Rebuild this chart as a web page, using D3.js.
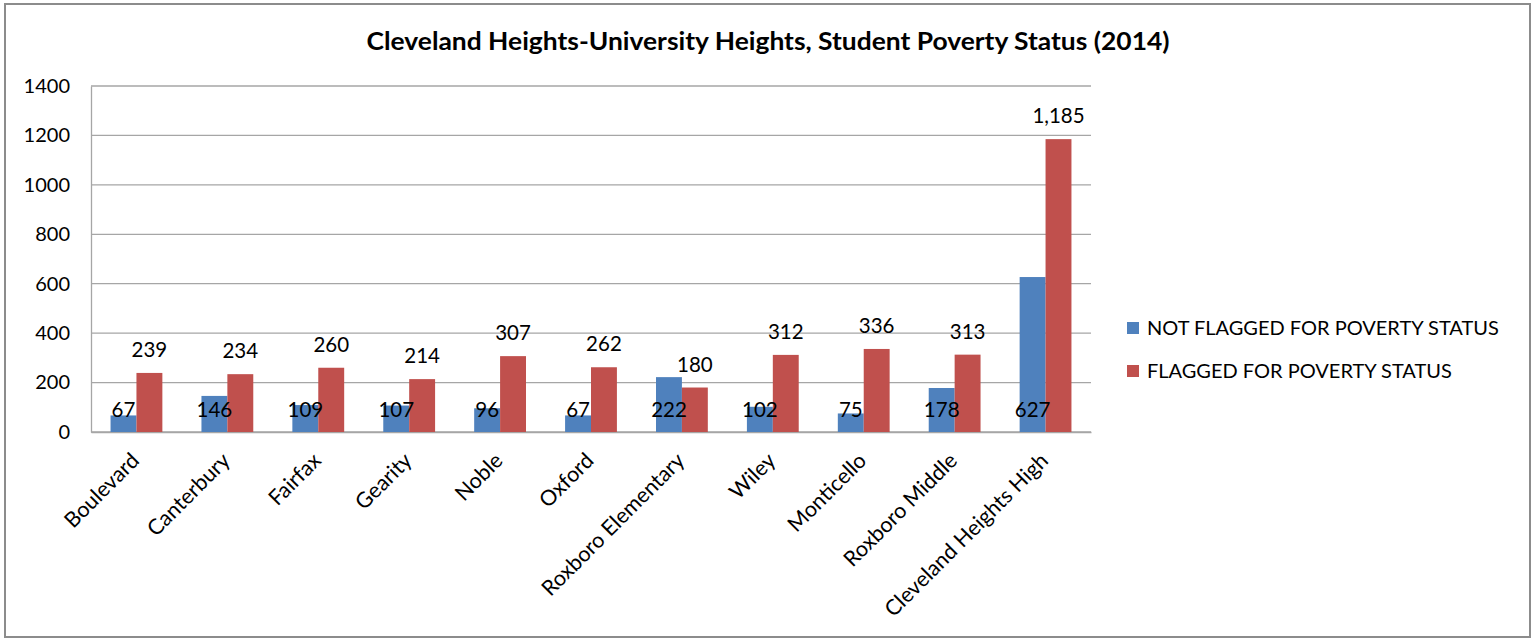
<!DOCTYPE html>
<html>
<head>
<meta charset="utf-8">
<script src="https://cdn.jsdelivr.net/npm/d3@7"></script>
<style>
  html, body { margin: 0; padding: 0; background: #fff; }
  svg text { font-family: Lato, "Liberation Sans", sans-serif; fill: #000; }
</style>
</head>
<body>
<svg id="chart" width="1536" height="641"></svg>
<script>
const categories = ["Boulevard", "Canterbury", "Fairfax", "Gearity", "Noble", "Oxford",
  "Roxboro Elementary", "Wiley", "Monticello", "Roxboro Middle", "Cleveland Heights High"];
const seriesNames = ["NOT FLAGGED FOR POVERTY STATUS", "FLAGGED FOR POVERTY STATUS"];
const notFlagged = [67, 146, 109, 107, 96, 67, 222, 102, 75, 178, 627];
const flagged = [239, 234, 260, 214, 307, 262, 180, 312, 336, 313, 1185];
const yTicks = [0, 200, 400, 600, 800, 1000, 1200, 1400];
const colors = ["#4F81BD", "#C0504D"];
const title = "Cleveland Heights-University Heights, Student Poverty Status (2014)";

const svg = d3.select("#chart");
// outer frame
svg.append("rect").attr("x", 5).attr("y", 4).attr("width", 1525).attr("height", 633)
  .attr("fill", "#fff").attr("stroke", "#8c8c8c").attr("stroke-width", 2);

svg.append("text").attr("x", 768).attr("y", 50).attr("text-anchor", "middle")
  .style("font-weight", "bold").style("font-size", "25px")
  .attr("textLength", 803).attr("lengthAdjust", "spacingAndGlyphs").text(title);

const plot = { left: 91, top: 86, right: 1091, bottom: 432 };
const g = svg.append("g");

const y = d3.scaleLinear().domain([0, 1400]).range([plot.bottom, plot.top]);
const x0 = d3.scaleBand().domain(categories).range([plot.left, plot.right])
  .paddingInner(0.43).paddingOuter(0.215);
const x1 = d3.scaleBand().domain(seriesNames).range([0, x0.bandwidth()]);

// gridlines
g.append("g").selectAll("line").data(yTicks).join("line")
  .attr("x1", plot.left).attr("x2", plot.right)
  .attr("y1", d => y(d)).attr("y2", d => y(d))
  .attr("stroke", "#a6a6a6").attr("stroke-width", 1.3);

// y axis
const yAxis = d3.axisLeft(y).tickValues(yTicks).tickSize(0).tickPadding(21).tickFormat(d3.format("d"));
const ya = g.append("g").attr("transform", `translate(${plot.left},0)`).call(yAxis);
ya.select(".domain").attr("stroke", "#a6a6a6").attr("stroke-width", 1.3);
ya.selectAll("text").style("font-size", "20px").style("font-family", "Lato, sans-serif").attr("fill", "#000");

// x axis
const xAxis = d3.axisBottom(x0).tickSize(0).tickPadding(0);
const xa = g.append("g").attr("transform", `translate(0,${plot.bottom})`).call(xAxis);
xa.select(".domain").attr("stroke", "#a6a6a6").attr("stroke-width", 1.3);
xa.selectAll("text").style("font-size", "21.5px").style("font-family", "Lato, sans-serif")
  .attr("fill", "#000").attr("text-anchor", "end").attr("y", 0).attr("dy", 0)
  .attr("transform", "translate(4,30) rotate(-45)");

const data = categories.map((c, i) => ({ cat: c, vals: [notFlagged[i], flagged[i]] }));
const groups = g.append("g").selectAll("g").data(data).join("g")
  .attr("transform", d => `translate(${x0(d.cat)},0)`);

groups.selectAll("rect").data(d => d.vals.map((v, k) => ({ k, v }))).join("rect")
  .attr("x", d => x1(seriesNames[d.k]))
  .attr("width", x1.bandwidth())
  .attr("y", d => y(d.v))
  .attr("height", d => y(0) - y(d.v))
  .attr("fill", d => colors[d.k]);

const fmt = d3.format(",");
// labels for not flagged: inside base
groups.append("text")
  .attr("x", x1(seriesNames[0]) + x1.bandwidth() / 2)
  .attr("y", y(0) - 15)
  .attr("text-anchor", "middle").style("font-size", "20.5px")
  .text(d => fmt(d.vals[0]));
// labels for flagged: above the bar
groups.append("text")
  .attr("x", x1(seriesNames[1]) + x1.bandwidth() / 2)
  .attr("y", d => y(d.vals[1]) - 16)
  .attr("text-anchor", "middle").style("font-size", "20.5px")
  .text(d => fmt(d.vals[1]));

// legend
const leg = svg.append("g").attr("transform", "translate(1127,328)");
const li = leg.selectAll("g").data(seriesNames).join("g")
  .attr("transform", (d, i) => `translate(0,${i * 43})`);
li.append("rect").attr("x", 0).attr("y", -6).attr("width", 12).attr("height", 12)
  .attr("fill", (d, i) => colors[i]);
li.append("text").attr("x", 20).attr("y", 0).attr("dy", "0.36em")
  .style("font-size", "20px").text(d => d);
</script>
</body>
</html>
